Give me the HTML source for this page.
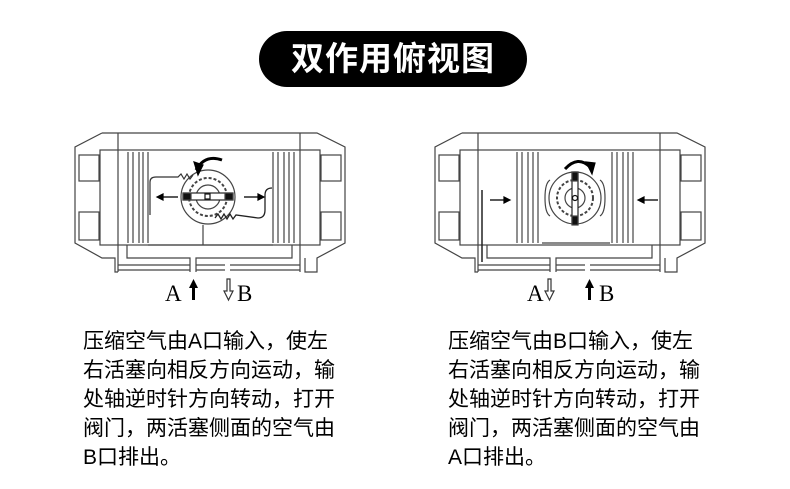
<!DOCTYPE html>
<html><head><meta charset="utf-8"><style>
html,body{margin:0;padding:0;background:#fff;}
body{width:790px;height:489px;position:relative;overflow:hidden;font-family:"Liberation Sans","Noto Sans CJK SC",sans-serif;}
.pill{position:absolute;left:259px;top:31px;width:268px;height:56px;background:#000;border-radius:28px;color:#fff;font-size:33px;font-weight:bold;text-align:center;line-height:56px;letter-spacing:1px;}
.txt{position:absolute;top:327px;font-size:21px;line-height:29px;color:#000;width:270px;}
</style></head><body>
<div class="pill">双作用俯视图</div>
<svg width="790" height="489" style="position:absolute;left:0;top:0" fill="none" stroke="#444" stroke-width="1.2">
<defs>
<g id="body">
<path d="M102,133 L317,133 L345,147 L345,243 L317,258 L317,272 L305,272 L305,258"/>
<path d="M102,133 L75,147 L75,243 L102,258 L115,258 L115,272 L118,272"/>
<line x1="118" y1="133" x2="118" y2="272"/>
<line x1="300" y1="133" x2="300" y2="272"/>
<rect x="100" y="150" width="220" height="95"/>
<rect x="79" y="155" width="20" height="26"/>
<rect x="79" y="212" width="20" height="28"/>
<rect x="321" y="155" width="20" height="26"/>
<rect x="321" y="212" width="20" height="28"/>
<line x1="118" y1="265" x2="190" y2="265"/>
<line x1="118" y1="270" x2="190" y2="270"/>
<line x1="196" y1="265" x2="225" y2="265"/>
<line x1="196" y1="270" x2="225" y2="270"/>
<line x1="230" y1="265" x2="300" y2="265"/>
<line x1="230" y1="270" x2="300" y2="270"/>
<path d="M127,245 L127,258 L190,258 L190,272"/>
<path d="M196,272 L196,258 L292,258 L292,245"/>
</g>
</defs>
<use href="#body"/>
<g>
<line x1="128" y1="152" x2="128" y2="243"/><line x1="133" y1="152" x2="133" y2="243"/>
<line x1="139" y1="152" x2="139" y2="243"/><line x1="143" y1="152" x2="143" y2="243"/><line x1="148" y1="152" x2="148" y2="243"/>
<line x1="273" y1="152" x2="273" y2="243"/><line x1="278" y1="152" x2="278" y2="243"/>
<line x1="284" y1="152" x2="284" y2="243"/><line x1="289" y1="152" x2="289" y2="243"/><line x1="294" y1="152" x2="294" y2="243"/>
<line x1="148" y1="245" x2="273" y2="245"/>
<circle cx="208" cy="197" r="27"/>
<circle cx="208" cy="197" r="19" stroke-dasharray="3 2" stroke-width="2"/>
<circle cx="208" cy="197" r="12"/>
<rect x="183" y="193" width="50" height="7" fill="#fff" stroke="#222"/>
<rect x="183" y="193" width="8" height="7" fill="#111"/><rect x="225" y="193" width="8" height="7" fill="#111"/>
<rect x="205" y="194" width="5" height="5" stroke="#111"/>
<path d="M150,215 L150,182 Q150,177 156,177 L178,177 l3,-3 l3,5 l3,-5 l3,5 l3,-4" stroke="#333"/>
<path d="M215,218 l3,-4 l3,5 l3,-5 l3,5 l3,-5 l3,5 l3,-4 L258,218 Q265,218 265,210 L265,195 Q265,188 272,188" stroke="#222" stroke-width="1.3"/>
<path d="M203,245 L203,225"/>
<path d="M196,170 Q205,154 222,160" stroke="#000" stroke-width="3"/>
<path d="M194,162 L198,175 L203,165 Z" fill="#000" stroke="#000"/>
<line x1="162" y1="197" x2="178" y2="197" stroke="#000" stroke-width="1.3"/><path d="M157,197 l6,-3 l0,6 Z" fill="#000" stroke="#000"/>
<line x1="244" y1="197" x2="259" y2="197" stroke="#000" stroke-width="1.3"/><path d="M264,197 l-6,-3 l0,6 Z" fill="#000" stroke="#000"/>
</g>
<use href="#body" transform="translate(360,0)"/>
<g>
<line x1="517" y1="152" x2="517" y2="243"/><line x1="522" y1="152" x2="522" y2="243"/>
<line x1="528" y1="152" x2="528" y2="243"/><line x1="533" y1="152" x2="533" y2="243"/><line x1="538" y1="152" x2="538" y2="243"/>
<line x1="612" y1="152" x2="612" y2="243"/><line x1="617" y1="152" x2="617" y2="243"/>
<line x1="623" y1="152" x2="623" y2="243"/><line x1="628" y1="152" x2="628" y2="243"/><line x1="633" y1="152" x2="633" y2="243"/>
<line x1="542" y1="243" x2="610" y2="243"/>
<circle cx="575" cy="198" r="26"/>
<circle cx="575" cy="198" r="18" stroke-dasharray="3 2" stroke-width="2"/>
<circle cx="575" cy="198" r="10"/>
<rect x="572" y="172" width="6" height="52" fill="#fff" stroke="#222"/>
<rect x="572" y="172" width="6" height="9" fill="#111"/><rect x="572" y="216" width="6" height="9" fill="#111"/>
<circle cx="575" cy="198" r="2.5" stroke="#111"/>
<path d="M550,180 Q545,183 545,198 Q545,213 550,216 M600,180 Q605,183 605,198 Q605,213 600,216"/>
<path d="M482,190 L482,262" stroke="#222" stroke-width="1.5"/>
<path d="M565,169 Q578,155 590,167" stroke="#000" stroke-width="3"/>
<path d="M586,162 L592,174 L595,163 Z" fill="#000" stroke="#000"/>
<line x1="490" y1="200" x2="505" y2="200" stroke="#000" stroke-width="1.3"/><path d="M510,200 l-6,-3 l0,6 Z" fill="#000" stroke="#000"/>
<line x1="643" y1="200" x2="658" y2="200" stroke="#000" stroke-width="1.3"/><path d="M638,200 l6,-3 l0,6 Z" fill="#000" stroke="#000"/>
</g>
<g stroke="none" fill="#000" font-family="Liberation Serif, serif" font-size="23">
<text x="165" y="301">A</text>
<text x="237" y="301">B</text>
<text x="527" y="301">A</text>
<text x="599" y="301">B</text>
</g>
<path d="M192,300 L192,288 L189,288 L193.5,279 L198,288 L195,288 L195,300 Z" fill="#000" stroke="none"/>
<path d="M588,300 L588,288 L585,288 L589.5,279 L594,288 L591,288 L591,300 Z" fill="#000" stroke="none"/>
<path d="M227,279 L227,291 L224,291 L228.5,300 L233,291 L230,291 L230,279 Z" fill="#fff" stroke="#333"/>
<path d="M548,279 L548,291 L545,291 L549.5,300 L554,291 L551,291 L551,279 Z" fill="#fff" stroke="#333"/>
</svg>
<div class="txt" style="left:83px">压缩空气由A口输入，使左<br>右活塞向相反方向运动，输<br>处轴逆时针方向转动，打开<br>阀门，两活塞侧面的空气由<br>B口排出。</div>
<div class="txt" style="left:448px">压缩空气由B口输入，使左<br>右活塞向相反方向运动，输<br>处轴逆时针方向转动，打开<br>阀门，两活塞侧面的空气由<br>A口排出。</div>
</body></html>
